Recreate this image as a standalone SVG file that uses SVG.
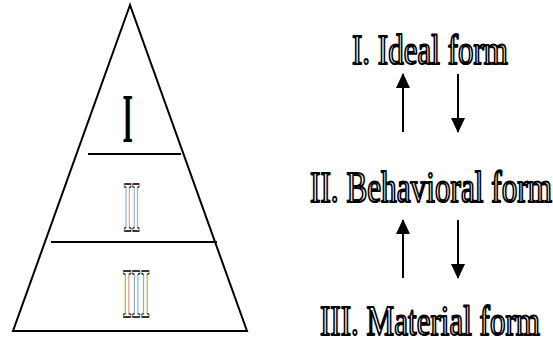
<svg xmlns="http://www.w3.org/2000/svg" width="553" height="343" viewBox="0 0 553 343">
<style>
.ln{stroke:#000;stroke-width:2;fill:none}
.ol{font-family:"Liberation Serif","Times New Roman",serif;fill:#fff;stroke:#000;stroke-width:1.5;stroke-linejoin:round}
.olb{font-family:"Liberation Serif","Times New Roman",serif;font-weight:bold;fill:#fff;stroke:#000;stroke-width:1.3;stroke-linejoin:round}
.lb{font-size:31px}
.sd{font-family:"Liberation Serif","Times New Roman",serif;font-weight:bold;fill:#000}
</style>
<defs>
<marker id="ah" viewBox="0 0 15 14" refX="14" refY="7" markerWidth="15" markerHeight="14" markerUnits="userSpaceOnUse" orient="auto"><path d="M0,0 L15,7 L0,14 Z" fill="#000"/></marker>
</defs>
<g id="pyramid">
<path class="ln" d="M130,5 L13,331 L247,331 Z"/>
<line class="ln" x1="88" y1="154" x2="181" y2="154"/>
<line class="ln" x1="51" y1="242" x2="217" y2="242"/>
</g>
<g id="level1"><text class="sd" transform="translate(122.5,142) scale(0.4,1)" font-size="70" textLength="26" lengthAdjust="spacingAndGlyphs">I</text></g>
<g id="level2"><text class="olb" transform="translate(123.5,231) scale(0.4,1)" font-size="71" textLength="41" lengthAdjust="spacingAndGlyphs">II</text></g>
<g id="level3"><text class="olb" transform="translate(122.5,317) scale(0.4,1)" font-size="70" textLength="68" lengthAdjust="spacingAndGlyphs">III</text></g>
<g id="ideal"><text class="ol lb" transform="translate(352,64) scale(1,1.36)" textLength="156" lengthAdjust="spacingAndGlyphs">I. Ideal form</text></g>
<g id="behavioral"><text class="ol lb" transform="translate(310,202) scale(1,1.4)" textLength="242" lengthAdjust="spacingAndGlyphs">II. Behavioral form</text></g>
<g id="material"><text class="ol lb" transform="translate(320,335) scale(1,1.33)" textLength="220" lengthAdjust="spacingAndGlyphs">III. Material form</text></g>
<g id="connectors">
<line class="ln" x1="403" y1="132" x2="403" y2="74" marker-end="url(#ah)"/>
<line class="ln" x1="458" y1="74" x2="458" y2="132" marker-end="url(#ah)"/>
<line class="ln" x1="403" y1="278" x2="403" y2="220" marker-end="url(#ah)"/>
<line class="ln" x1="458" y1="220" x2="458" y2="278" marker-end="url(#ah)"/>
</g>
</svg>
